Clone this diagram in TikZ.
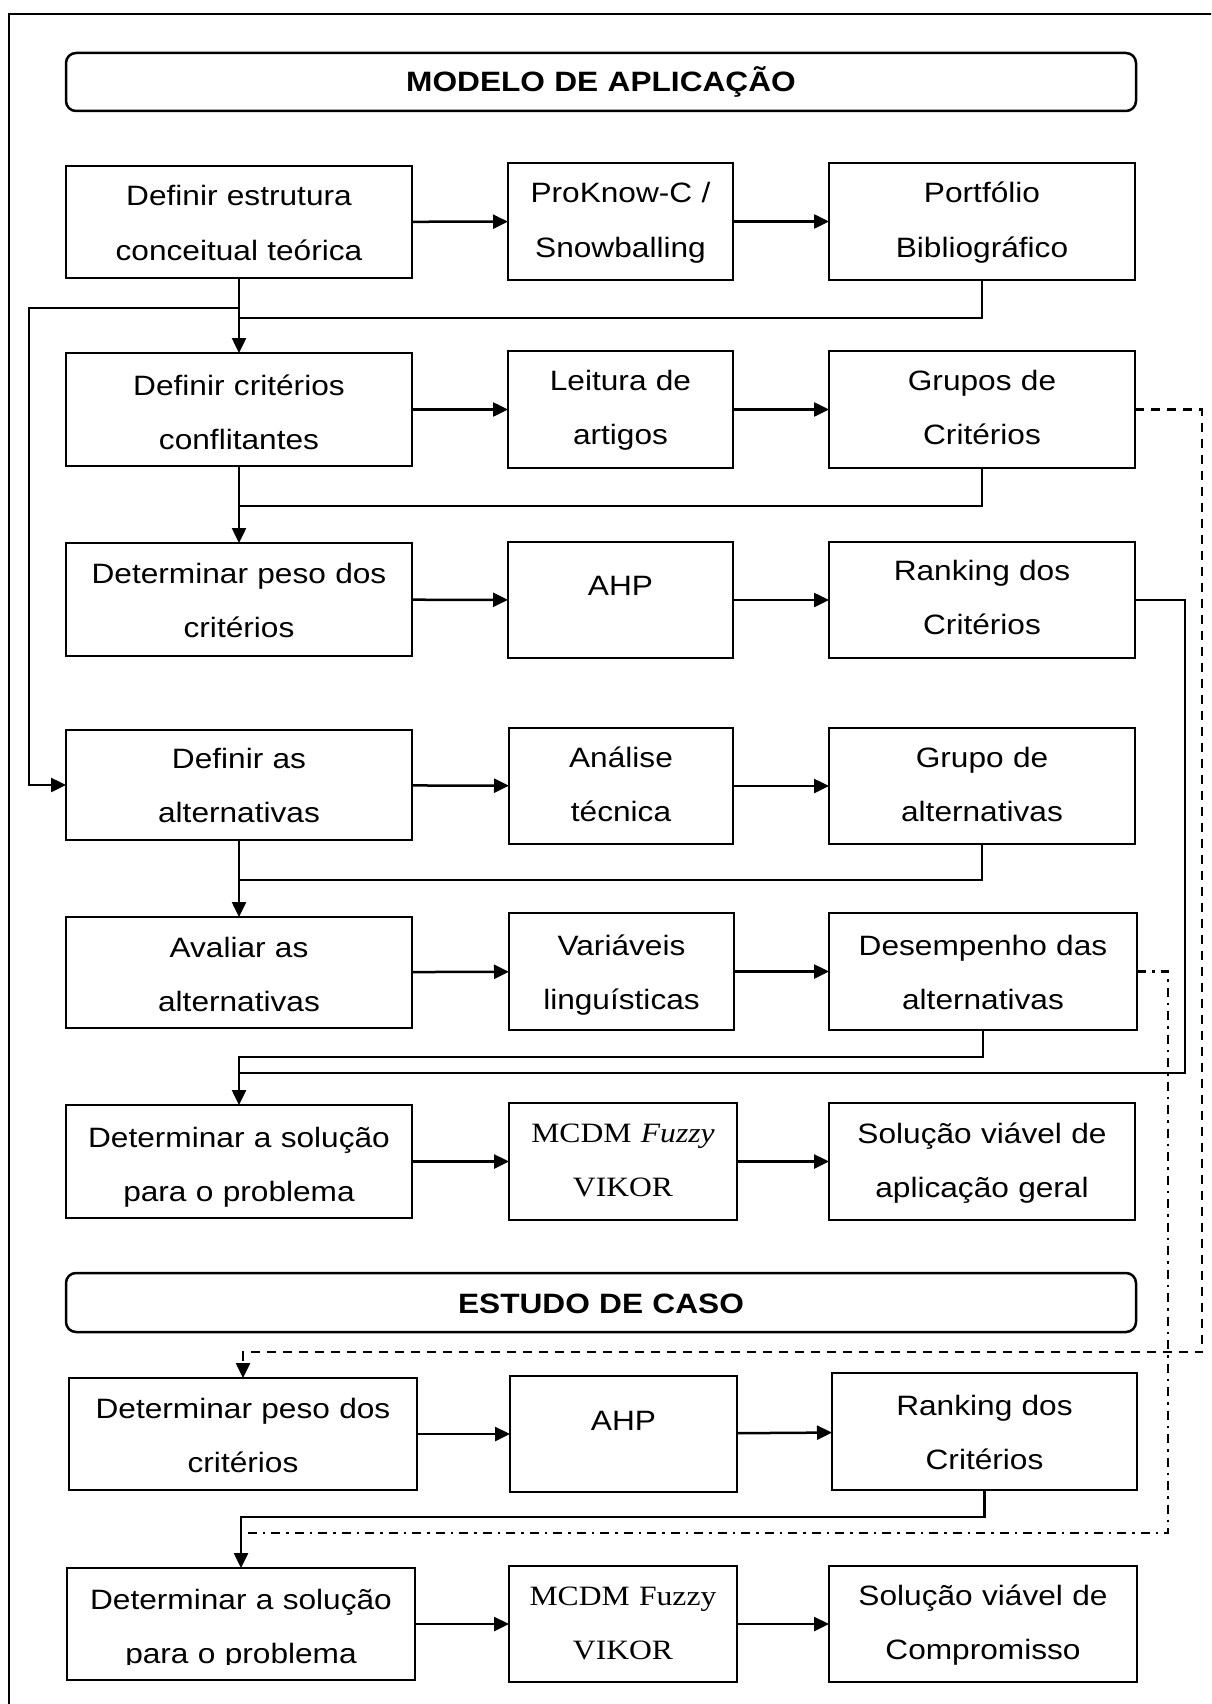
\documentclass[tikz,border=0pt]{standalone}
\usepackage{fontspec}
\setmainfont{Liberation Sans}[FakeStretch=1.13]
\newfontfamily\tnr{Liberation Serif}[FakeStretch=1.13]
\usetikzlibrary{arrows.meta}

\newcommand\mybox[8][bx]{%
  \pgfmathsetmacro\qw{#5-#3}%
  \pgfmathsetmacro\qh{#6-#4}%
  \pgfmathsetmacro\qx{(#3+#5)/2}%
  \pgfmathsetmacro\qy{(#4+#6)/2}%
  \pgfmathsetmacro\qo{#7-\qy}%
  \pgfmathsetmacro\qth{max(0,2*\qo)}%
  \pgfmathsetmacro\qtd{max(0,-2*\qo)}%
  \node[#1, minimum width=\qw pt, minimum height=\qh pt, text width=\qw pt,
        text height=\qth pt, text depth=\qtd pt] (#2) at (\qx,\qy) {#8};%
}

\tikzset{
  bx/.style={draw, line width=2.5pt, inner sep=0pt, outer sep=0pt, align=center,
             font=\fontsize{28}{54.5}\selectfont},
  hdr/.style={bx, rounded corners=10pt, font=\fontsize{28}{54.5}\selectfont\bfseries},
  ln/.style={line width=2.5pt},
  arr/.style={line width=2.5pt, -{Triangle[length=15pt,width=14pt]}},
  dsh/.style={line width=2.5pt, dash pattern=on 9pt off 7pt},
  ddot/.style={line width=2.5pt, dash pattern=on 9pt off 6pt on 2.5pt off 6pt},
}

\begin{document}
\begin{tikzpicture}[x=1pt,y=-1pt]
\useasboundingbox (0,0) rectangle (1211,1704);
\clip (0,0) rectangle (1211,1704);
\fill[white] (0,0) rectangle (1211,1704);

% outer frame
\draw[ln] (9,1730) -- (9,14) -- (1240,14);

% headers
\mybox[hdr]{h1}{66}{53}{1136}{111}{92}{MODELO DE APLICAÇÃO}
\mybox[hdr]{h2}{66}{1273}{1136}{1332}{1313}{ESTUDO DE CASO}

% row 1
\mybox{r1a}{66}{166}{412}{278}{206}{Definir estrutura\\conceitual teórica}
\mybox{r1b}{508}{163}{733}{280}{203}{ProKnow-C /\\Snowballing}
\mybox{r1c}{829}{163}{1135}{280}{203}{Portfólio\\Bibliográfico}
% row 2
\mybox{r2a}{66}{353}{412}{466}{395}{Definir critérios\\conflitantes}
\mybox{r2b}{508}{351}{733}{468}{390}{Leitura de\\artigos}
\mybox{r2c}{829}{351}{1135}{468}{390}{Grupos de\\Critérios}
% row 3
\mybox{r3a}{66}{543}{412}{656}{583}{Determinar peso dos\\critérios}
\mybox{r3b}{508}{542}{733}{658}{595}{AHP}
\mybox{r3c}{829}{542}{1135}{658}{580}{Ranking dos\\Critérios}
% row 4
\mybox{r4a}{66}{730}{412}{840}{768}{Definir as\\alternativas}
\mybox{r4b}{509}{728}{733}{844}{767}{Análise\\técnica}
\mybox{r4c}{829}{728}{1135}{844}{767}{Grupo de\\alternativas}
% row 5
\mybox{r5a}{66}{917}{412}{1028}{957}{Avaliar as\\alternativas}
\mybox{r5b}{509}{913}{734}{1030}{955}{Variáveis\\linguísticas}
\mybox{r5c}{829}{913}{1137}{1030}{955}{Desempenho das\\alternativas}
% row 6
\mybox{r6a}{66}{1105}{412}{1218}{1147}{Determinar a solução\\para o problema}
\mybox{r6b}{509}{1103}{737}{1220}{1142}{\tnr MCDM \textit{Fuzzy}\\\tnr VIKOR}
\mybox{r6c}{829}{1103}{1135}{1220}{1143}{Solução viável de\\aplicação geral}
% row 7
\mybox{r7a}{69}{1378}{417}{1490}{1418}{Determinar peso dos\\critérios}
\mybox{r7b}{510}{1376}{737}{1492}{1430}{AHP}
\mybox{r7c}{832}{1373}{1137}{1490}{1415}{Ranking dos\\Critérios}
% row 8
\begin{scope}
  \clip (0,0) rectangle (1211,1664);
  \mybox[bx,draw=none]{r8atext}{67}{1568}{415}{1680}{1609}{Determinar a solução\\para o problema}
\end{scope}
\mybox{r8a}{67}{1568}{415}{1680}{1609}{}
\mybox{r8b}{509}{1566}{737}{1682}{1605}{\tnr MCDM Fuzzy\\\tnr VIKOR}
\mybox{r8c}{829}{1566}{1137}{1682}{1605}{Solução viável de\\Compromisso}

% horizontal arrows
\foreach \r in {1,...,8}{
  \draw[arr] (r\r a) -- (r\r b);
  \draw[arr] (r\r b) -- (r\r c);
}

% coordinates for junctions
\coordinate (j1) at (239,318);
\coordinate (j1l) at (239,308);
\coordinate (lft) at (29,308);
\coordinate (j2) at (239,506);
\coordinate (rk) at (1185,1073);
\coordinate (j3) at (239,1073);
\coordinate (j4) at (239,880);
\coordinate (j5) at (239,1057);
\coordinate (d1) at (1202,1352);
\coordinate (j7) at (241,1517);
\coordinate (dd1) at (1168,1533);
\coordinate (dd2) at (241,1533);

% row 1 -> row 2
\draw[arr] (r1a.south) -- (r2a.north);
\draw[ln] (r1c.south) |- (j1);
\draw[arr] (j1l) -- (lft) |- (r4a.west);
% row 2 -> row 3
\draw[arr] (r2a.south) -- (r3a.north);
\draw[ln] (r2c.south) |- (j2);
% ranking -> row 6
\draw[ln] (r3c.east) -| (rk) -- (j3);
% row 4 -> row 5
\draw[arr] (r4a.south) -- (r5a.north);
\draw[ln] (r4c.south) |- (j4);
% row 5 -> row 6
\draw[arr] (r5c.south) |- (j5) -- (r6a.north);
% dashed: grupos de criterios -> estudo de caso
\draw[dsh,arr] (r2c.east) -| (d1) -| (r7a.north);
% row 7 -> row 8
\draw[arr] (r7c.south) |- (j7) -- (r8a.north);
% dash-dot: desempenho -> row 8
\draw[ddot] (r5c.east) -| (dd1) -- (dd2);
\end{tikzpicture}
\end{document}
